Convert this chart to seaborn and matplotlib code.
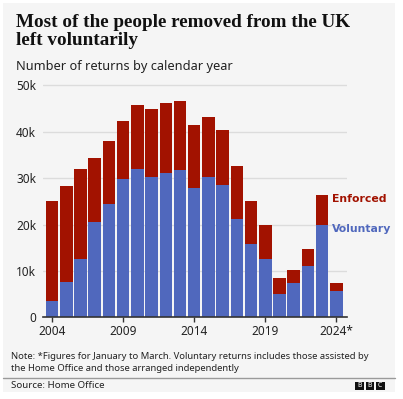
import matplotlib
matplotlib.use("Agg")
import matplotlib.pyplot as plt
from matplotlib.patches import Rectangle
import seaborn as sns
import pandas as pd

years = list(range(2004, 2025))
year_labels = [str(y) for y in years]
voluntary = [3.6, 7.7, 12.6, 20.5, 24.5, 29.8, 31.9, 30.2, 31.0, 31.8, 27.9,
             30.3, 28.5, 21.1, 15.8, 12.6, 5.1, 7.5, 11.0, 19.9, 5.7]
total = [25.0, 28.4, 32.0, 34.4, 37.9, 42.3, 45.8, 44.8, 46.2, 46.6, 41.4,
         43.2, 40.4, 32.7, 25.0, 19.8, 8.4, 10.1, 14.8, 26.3, 7.5]
enforced = [t - v for t, v in zip(total, voluntary)]
xtick_labels = ["2004", "2009", "2014", "2019", "2024*"]
ytick_labels = ["0", "10k", "20k", "30k", "40k", "50k"]

df = pd.DataFrame({
    "year": year_labels,
    "Voluntary": [v * 1000 for v in voluntary],
    "Total": [(v + e) * 1000 for v, e in zip(voluntary, enforced)],
})

RED = "#a21200"
BLUE = "#5068bd"
BG = "#f5f5f5"
TXT = "#222222"

sns.set_theme(style="white")
plt.rcParams["font.family"] = ["Noto Sans", "DejaVu Sans"]

W, H = 403, 399
fig = plt.figure(figsize=(W / 100, H / 100), dpi=100, facecolor="white")

def fx(px):
    return px / W

def fy(py):
    return 1 - py / H

# grey panel
fig.patches.append(Rectangle((fx(3), fy(392)), fx(392), (392 - 3) / H,
                             transform=fig.transFigure, facecolor=BG,
                             edgecolor="none", zorder=-5))

ax_left, ax_right = 43, 347
ax_bottom, ax_top = 317.3, 80.7
ax = fig.add_axes([fx(ax_left), fy(ax_bottom), (ax_right - ax_left) / W,
                   (ax_bottom - ax_top) / H])
ax.set_facecolor("none")
ax.set_zorder(2)

sns.barplot(data=df, x="year", y="Total", color=RED, saturation=1,
            width=0.88, ax=ax, order=year_labels, linewidth=0, zorder=2)
sns.barplot(data=df, x="year", y="Voluntary", color=BLUE, saturation=1,
            width=0.88, ax=ax, order=year_labels, linewidth=0, zorder=3)

ax.set_xlim(-0.64, 20.75)
ax.set_ylim(0, 51000)
ax.set_yticks([0, 10000, 20000, 30000, 40000, 50000])
ax.set_yticklabels(ytick_labels)
ax.set_xticks([0, 5, 10, 15, 20])
ax.set_xticklabels(xtick_labels)
ax.set_xlabel("")
ax.set_ylabel("")
for s in ["top", "right", "left"]:
    ax.spines[s].set_visible(False)
ax.spines["bottom"].set_color("#333333")
ax.spines["bottom"].set_linewidth(1.2)
ax.spines["bottom"].set_zorder(5)
ax.tick_params(axis="y", length=0, pad=5, labelsize=8.5, labelcolor=TXT)
ax.tick_params(axis="x", length=3.5, width=1, color="#333333", pad=2,
               labelsize=8.5, labelcolor=TXT, bottom=True)
for t in ax.get_yticklabels():
    t.set_horizontalalignment("right")
for yv in [10000, 20000, 30000, 40000, 50000]:
    ax.axhline(yv, color="#dcdcdc", linewidth=1, zorder=1)

ax.text(19.72, 25500, "Enforced", color=RED, fontsize=7.8, fontweight="bold",
        family="DejaVu Sans", ha="left", va="center")
ax.text(19.72, 19000, "Voluntary", color=BLUE, fontsize=7.8, fontweight="bold",
        family="DejaVu Sans", ha="left", va="center")

# titles
fig.text(fx(16), fy(27), "Most of the people removed from the UK",
         family="Liberation Serif", fontweight="bold", fontsize=13.8, color="#111111",
         ha="left", va="baseline")
fig.text(fx(16), fy(45), "left voluntarily",
         family="Liberation Serif", fontweight="bold", fontsize=13.8, color="#111111",
         ha="left", va="baseline")
fig.text(fx(16), fy(70), "Number of returns by calendar year",
         fontsize=9.2, color=TXT, ha="left", va="baseline")

# note
fig.text(fx(11), fy(359), "Note: *Figures for January to March. Voluntary returns includes those assisted by",
         fontsize=6.8, color=TXT, ha="left", va="baseline")
fig.text(fx(11), fy(371), "the Home Office and those arranged independently",
         fontsize=6.8, color=TXT, ha="left", va="baseline")
fig.lines.append(plt.Line2D([fx(3), fx(395)], [fy(378), fy(378)],
                            transform=fig.transFigure, color="#9a9a9a", linewidth=1))
fig.text(fx(11), fy(388), "Source: Home Office", fontsize=7, color=TXT,
         ha="left", va="baseline")

# BBC blocks
for i, letter in enumerate(["B", "B", "C"]):
    x0 = 355 + i * 10.5
    fig.patches.append(Rectangle((fx(x0), fy(390)), fx(8.5), 8.5 / H,
                                 transform=fig.transFigure, facecolor="#111111",
                                 edgecolor="none", zorder=1))
    fig.text(fx(x0 + 4.25), fy(385.75), letter, fontsize=5, fontweight="bold",
             color="white", ha="center", va="center", zorder=3)

fig.savefig("out.png", dpi=100, facecolor="white")
